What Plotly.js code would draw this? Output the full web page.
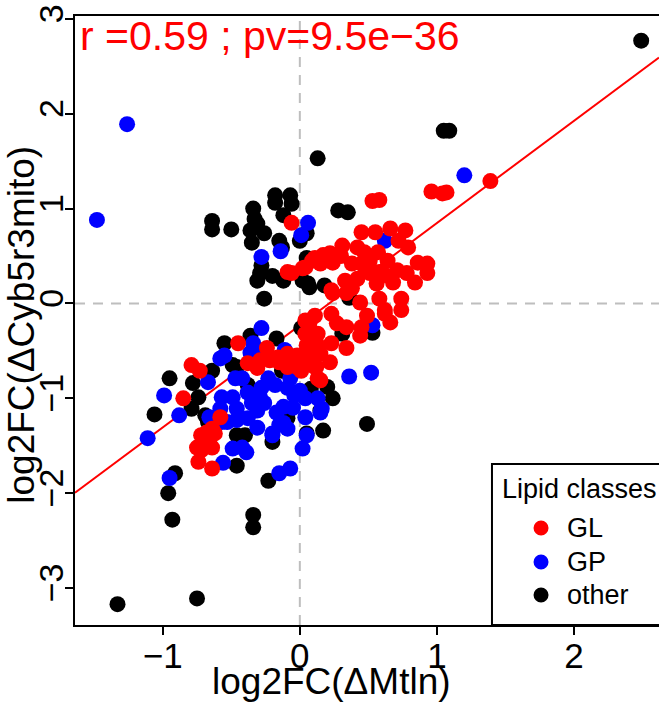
<!DOCTYPE html>
<html>
<head>
<meta charset="utf-8">
<script src="https://cdn.plot.ly/plotly-3.0.1.min.js"></script>
<style>html,body{margin:0;padding:0;background:#fff;}#chart{width:659px;height:702px;}</style>
</head>
<body>
<div id="chart"></div>
<script>
// ---- data ----
const glX = [1.39,0.96,1.04,1.07,0.53,0.58,-0.06,-0.09,0.02,0.09,0.17,0.45,0.55,0.66,0.77,0.79,0.31,0.42,0.47,0.57,0.22,0.11,0.04,-0.06,0.15,0.24,0.38,0.45,0.51,0.64,0.71,0.58,0.51,0.42,0.33,0.56,0.68,0.78,0.86,0.93,0.93,0.84,0.23,0.38,0.44,0.58,0.74,0.74,0.62,0.66,0.49,0.45,0.34,0.27,0.23,0.11,0.07,0.04,0.24,0.34,0.62,0.44,0.07,0.05,0.23,0.34,0.15,0.22,0.11,0.01,0.15,0.06,0.13,0.04,-0.45,-0.24,-0.38,-0.31,-0.22,-0.16,-0.09,-0.02,0.05,0.13,0.07,0.12,0.13,0.02,-0.29,-0.20,-0.15,-0.02,-0.09,-0.79,-0.73,-0.85,-0.58,-0.72,-0.68,-0.64,-0.62,-0.75,-0.72,-0.64,-0.74,-0.64,-0.66,0.48,0.30,0.62,0.72];
const glY = [1.29,1.18,1.16,1.17,1.08,1.09,0.85,0.33,0.37,0.45,0.51,0.75,0.75,0.79,0.77,0.59,0.61,0.59,0.54,0.54,0.53,0.48,0.38,0.32,0.42,0.43,0.42,0.42,0.45,0.45,0.35,0.33,0.32,0.26,0.24,0.21,0.22,0.32,0.43,0.42,0.32,0.22,0.14,0.16,0.01,0.05,0.05,-0.07,-0.07,-0.20,-0.13,-0.25,-0.25,-0.21,-0.11,-0.13,-0.21,-0.32,0.11,0.11,-0.11,-0.34,-0.32,-0.44,-0.42,-0.47,-0.53,-0.62,-0.67,-0.71,-0.81,-0.21,-0.32,-0.18,-0.42,-0.47,-0.63,-0.68,-0.60,-0.57,-0.53,-0.55,-0.52,-0.44,-0.63,-0.67,-0.79,-0.67,-0.60,-0.58,-0.62,-0.67,-0.67,-0.65,-0.71,-1.00,-1.20,-1.39,-1.36,-1.32,-1.37,-1.52,-1.55,-1.52,-1.67,-1.74,-1.44,0.36,0.50,0.30,0.66];

const gpX = [-1.26,-1.48,1.20,0.06,0.01,-0.28,-0.14,0.62,0.53,0.36,0.52,-0.28,-0.34,-0.36,-0.33,-0.55,-0.58,-0.11,-0.67,-0.47,-0.42,-0.99,-0.57,-0.49,-0.38,-0.29,-0.23,-0.18,-0.07,-0.09,0.00,-0.12,0.04,0.13,0.04,-0.15,-0.20,-0.31,-0.38,-0.53,-0.58,-0.46,-0.42,-0.49,-0.39,-0.88,-0.66,-1.11,-0.95,-0.56,-0.15,-0.07,-0.20,-0.09,-0.12,0.05,0.02,0.15,-0.46,-0.57,-0.17,-0.31,-0.28,-0.04,0.16,-0.26,-0.35,-0.05];
const gpY = [1.89,0.88,1.35,0.85,0.72,0.49,0.55,0.66,-0.23,-0.77,-0.73,-0.26,-0.42,-0.52,-0.53,-0.55,-0.58,-0.49,-0.83,-0.79,-0.79,-0.97,-0.99,-0.99,-0.94,-0.99,-0.79,-0.86,-0.79,-0.89,-0.92,-1.09,-1.00,-1.00,-1.20,-1.28,-1.37,-1.31,-1.21,-1.25,-1.11,-1.11,-1.52,-1.53,-1.57,-1.18,-1.20,-1.42,-1.84,-1.68,-1.79,-1.74,-1.39,-1.32,-1.26,-1.39,-1.53,-1.15,-1.23,-1.25,-1.15,-1.13,-0.89,-0.97,-1.11,-1.05,-1.05,-1.10];

const otherX = [2.49,1.05,1.09,0.13,-1.33,-0.75,-0.93,-0.34,-0.34,-0.23,0.49,-0.91,-0.96,-1.06,-0.95,-0.79,-0.64,-0.64,-0.50,-0.34,-0.33,-0.36,-0.26,-0.35,-0.18,-0.07,-0.18,-0.06,-0.12,-0.29,-0.31,-0.20,-0.12,-0.26,-0.13,0.05,0.02,0.07,0.00,-0.31,0.28,0.35,0.05,-0.28,-0.15,0.36,0.01,0.53,0.31,0.20,0.24,0.06,0.18,-0.36,-0.17,-0.55,-0.46,-0.64,-0.78,-0.38,-0.74,-0.46,0.15,0.05,0.17,-0.69,-0.67,-0.40,-0.20,-0.46,-0.09,-0.49,-0.13,0.08];
const otherY = [2.77,1.82,1.82,1.53,-3.17,-3.11,-2.28,-2.23,-2.36,-1.87,-1.27,-1.79,-2.00,-1.17,-0.79,-1.11,0.87,0.78,0.78,1.00,0.89,0.77,0.74,0.64,1.14,1.14,1.06,1.05,0.93,0.32,0.24,0.29,0.24,0.05,0.59,0.48,0.24,0.17,0.66,0.84,0.98,0.96,0.74,0.40,0.66,0.06,-0.26,-0.31,-0.32,-0.88,-1.00,0.21,0.19,-0.34,-0.37,-0.42,-0.67,-0.71,-0.84,-0.86,-0.99,-1.39,-1.13,-1.37,-1.34,-1.18,-1.25,-1.39,-1.46,-1.71,-1.21,-0.65,-0.71,-0.90];

const classNames = ["GL", "GP", "other"];
const classColors = ["#FF0000", "#0000FF", "#000000"];
const legendTitle = "Lipid classes";

const fitIntercept = -0.23;
const fitSlope = 1.077;
const statText = "r =0.59 ; pv=9.5e\u221236";

const xRange = [-1.64, 2.62];
const yRange = [-3.39, 3.03];
const xTicks = [-1, 0, 1, 2];
const yTicks = [-3, -2, -1, 0, 1, 2, 3];

const FONT = "Liberation Sans, Arial, Helvetica, sans-serif";

const fitLine = {
  x: xRange.slice(),
  y: xRange.map(v => fitIntercept + fitSlope * v),
  mode: "lines", type: "scatter",
  line: {color: "#FF0000", width: 2},
  showlegend: false, hoverinfo: "skip"
};

function pts(x, y, i) {
  return {
    x: x, y: y, type: "scatter", mode: "markers", name: classNames[i],
    showlegend: false,
    marker: {color: classColors[i], size: 16, line: {width: 0}}
  };
}

const data = [
  fitLine,
  pts(otherX, otherY, 2),
  pts(gpX, gpY, 1),
  pts(glX, glY, 0)
];

// legend box drawn in paper coordinates (R-style legend)
const legBox = {x0: 0.714, x1: 1.05, y0: 0, y1: 0.2644};
const legItemY = [0.1593, 0.1034, 0.0493];
const legendShapes = [
  {type: "rect", xref: "paper", yref: "paper", x0: legBox.x0, x1: legBox.x1, y0: legBox.y0, y1: legBox.y1,
   fillcolor: "#fff", line: {color: "#000", width: 2}, layer: "above"}
].concat(classNames.map((n, i) => ({
  type: "circle", xref: "paper", yref: "paper", xsizemode: "pixel", ysizemode: "pixel",
  xanchor: 0.798, yanchor: legItemY[i], x0: -7.5, x1: 7.5, y0: -7.5, y1: 7.5,
  fillcolor: classColors[i], line: {width: 0}, layer: "above"
})));
const legendAnnots = [
  {text: legendTitle, xref: "paper", yref: "paper", x: 0.7277, y: 0.2233, xanchor: "left", yanchor: "middle",
   showarrow: false, font: {size: 27, family: FONT}}
].concat(classNames.map((n, i) => ({
  text: n, xref: "paper", yref: "paper", x: 0.839, y: legItemY[i], xanchor: "left", yanchor: "middle",
  showarrow: false, font: {size: 27, family: FONT}
})));

const layout = {
  width: 659, height: 702,
  margin: {l: 75, r: 0, t: 16, b: 77},
  paper_bgcolor: "#fff", plot_bgcolor: "#fff",
  font: {family: FONT, color: "#000"},
  showlegend: false,
  xaxis: {
    range: xRange, tickvals: xTicks, ticks: "outside", ticklen: 8, tickwidth: 2, tickcolor: "#000",
    showline: true, linewidth: 2, linecolor: "#000", mirror: true, ticklabelstandoff: -9,
    showgrid: false, zeroline: false, tickfont: {size: 35, family: FONT}
  },
  yaxis: {
    range: yRange, tickvals: yTicks, ticks: "outside", ticklen: 8, tickwidth: 2, tickcolor: "#000",
    showline: true, linewidth: 2, linecolor: "#000", mirror: false, ticklabelstandoff: -12,
    showgrid: false, zeroline: false, tickangle: -90, tickfont: {size: 34, family: FONT}
  },
  shapes: [
    {type: "line", xref: "x", yref: "paper", x0: 0, x1: 0, y0: 0, y1: 1, layer: "below",
     line: {color: "#BEBEBE", width: 2, dash: "10px,8px"}},
    {type: "line", xref: "paper", yref: "y", x0: 0, x1: 1, y0: 0, y1: 0, layer: "below",
     line: {color: "#BEBEBE", width: 2, dash: "10px,8px"}}
  ].concat(legendShapes),
  annotations: [
    {text: statText, xref: "paper", yref: "paper", x: 0, y: 1, xanchor: "left", yanchor: "top",
     xshift: 3, yshift: 5, showarrow: false, font: {size: 41, color: "#FF0000", family: FONT}},
    {text: "log2FC(\u0394Mtln)", xref: "paper", yref: "paper", x: 0.44, y: 0, xanchor: "center", yanchor: "middle",
     yshift: -56, showarrow: false, font: {size: 37, family: FONT}},
    {text: "log2FC(\u0394Cyb5r3mito)", xref: "paper", yref: "paper", x: -0.093, y: 0.4926, xanchor: "center", yanchor: "middle",
     textangle: -90, showarrow: false, font: {size: 37, family: FONT}}
  ].concat(legendAnnots)
};

Plotly.newPlot("chart", data, layout, {displayModeBar: false, staticPlot: true});
</script>
</body>
</html>
